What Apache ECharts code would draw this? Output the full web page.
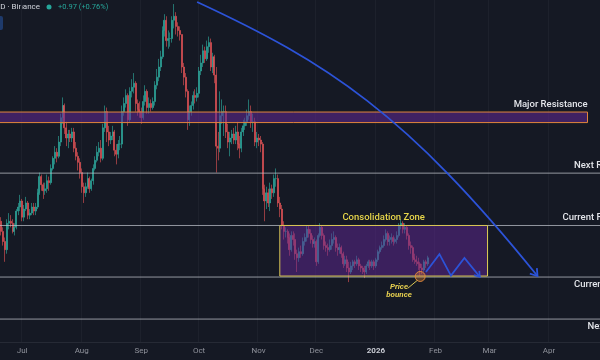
<!DOCTYPE html>
<html><head><meta charset="utf-8">
<script src="https://cdn.jsdelivr.net/npm/echarts@6/dist/echarts.min.js"></script>
<style>html,body{margin:0;padding:0;background:#151924;}#c{width:600px;height:360px;}</style>
</head><body><div id="c"></div>
<script>
// ---- data ----
const startDay = [2025, 5, 20];           // 2025-06-20, first category
const dayCount = 312;                      // categories through 2026-04-27
const monthLabels = ['2026','Feb','Mar','Apr','May','Jun','Jul','Aug','Sep','Oct','Nov','Dec'];
const firstOpen = 146;
const closes = [
 141,136,132,145,146,145,141,143,151,153,156,
 148,152,155,149,150,153,151,153,160,168,164,161,162,166,165,172,177,180,178,185,197,203,192,187,189,187,190,182,178,175,170,
 163,160,163,167,162,166,172,176,180,182,177,192,200,190,186,188,190,181,179,184,184,200,204,208,196,210,212,214,204,201,200,
 197,205,210,202,204,202,205,213,217,222,227,240,245,235,236,236,245,247,242,240,238,222,217,210,196,200,203,208,207,209,
 220,224,230,226,232,234,222,227,218,183,182,198,200,200,190,185,187,189,186,190,184,182,190,193,195,198,200,195,195,185,187,
 186,184,162,156,160,155,162,160,167,167,155,152,144,141,141,138,132,139,137,130,128,131,130,136,138,142,140,137,135,136,
 126,139,143,139,134,133,132,134,137,138,133,132,133,130,125,127,123,121,124,126,125,127,124,123,122,121,124,126,124,126,124,
 127,131,133,134,137,140,136,137,138,136,137,139,144,145,142,143,139,134,133,128,127,126,125,123,122,126,125,128];
const highs = [
 148,143,138,147,150,149,147,145,152,155,159,
 157,154,158,156,152,155,155,155,162,170,169,165,165,169,168,174,178,183,182,188,199,207,204,195,191,191,192,192,185,180,177,
 172,165,165,170,168,167,174,178,183,185,186,194,203,202,193,190,193,191,184,186,188,203,207,211,209,212,216,219,215,206,205,
 202,208,213,211,207,206,207,215,221,226,230,242,248,247,240,239,247,253,249,244,242,238,224,219,211,203,205,210,211,212,
 222,228,233,232,235,237,236,229,228,222,190,210,206,203,203,194,190,191,192,193,195,188,192,196,197,201,206,203,199,197,190,
 189,188,185,164,163,162,165,164,169,172,169,158,154,146,143,142,140,141,141,140,132,133,134,138,140,144,144,142,139,138,
 137,140,145,144,140,136,135,137,140,141,139,135,135,134,131,129,129,126,126,127,127,129,128,125,124,124,125,127,127,127,127,
 128,132,134,136,139,142,141,139,140,139,138,141,145,147,146,145,144,140,136,134,130,129,128,126,125,127,127,129];
const lows = [
 139,134,126,130,142,143,140,139,142,149,151,
 146,146,151,147,147,149,149,149,152,159,161,157,159,160,161,164,171,174,175,177,183,194,189,183,182,185,185,180,176,171,167,
 160,155,158,162,160,161,164,171,175,178,175,176,190,185,183,184,186,178,174,177,181,182,198,202,193,195,207,209,200,198,197,
 194,196,203,199,199,200,201,203,211,215,220,226,237,232,231,232,234,241,238,237,235,219,213,207,191,193,198,201,204,205,
 207,218,222,224,225,229,220,219,214,170,176,180,194,188,187,182,178,184,184,184,181,177,180,188,191,193,196,192,190,183,182,
 183,180,159,146,152,153,151,157,158,163,153,148,142,137,138,135,129,131,134,127,121,126,128,129,134,136,138,135,133,133,
 124,125,138,137,132,131,129,131,132,135,131,129,130,128,123,124,121,116,120,122,123,124,122,121,120,118,120,123,122,123,122,
 123,126,130,132,133,136,134,134,135,134,135,135,138,142,140,140,137,132,130,126,125,124,122,119,120,121,123,124];

const resistanceBand = [194.6, 199.8];
const resistanceBandEnd = '2026-04-21';
const nextResistance = 169.7;
const currentResistance = 143.9;
const currentSupport = 118.5;
const nextSupport = 97.8;
const zoneStart = '2025-11-12', zoneEnd = '2026-02-28', zoneTop = 143.9, zoneBottom = 119.0;
// projection curve: start, point at 1/3, point at 2/3, end (all on the curve)
const curvePoints = [['2025-09-30',254],['2025-11-30',223.5],['2026-01-24',182.9],['2026-03-26',119.0]];
const zigzagPoints = [['2026-01-27',121.0],['2026-02-03',129.8],['2026-02-09',119.2],['2026-02-16',127.9],['2026-02-24',118.6]];
const bouncePoint = ['2026-01-24',118.8];
const bounceText = ['2026-01-13',111.6];

// ---- build ----
const dates = [];
for (let i = 0; i < dayCount; i++) {
  const d = new Date(Date.UTC(startDay[0], startDay[1], startDay[2] + i));
  dates.push(d.toISOString().slice(0, 10));
}
const candles = closes.map((c, i) => [i === 0 ? firstOpen : closes[i - 1], c, lows[i], highs[i]]);
const isMonthStart = (idx, v) => (v || dates[idx]).slice(8) === '01';
const UP = '#2fb0a2', DOWN = '#ea5558';
const BLUE = '#2c53d8';

const chart = echarts.init(document.getElementById('c'));
chart.setOption({
  backgroundColor: '#151924',
  animation: false,
  grid: { left: 0, right: 0, top: 0, bottom: 18 },
  xAxis: {
    type: 'category', data: dates, boundaryGap: true,
    axisLine: { show: true, lineStyle: { color: '#262a35' } },
    axisTick: { show: false },
    axisLabel: {
      interval: (i, v) => isMonthStart(i, v), margin: 5, color: '#8f929b', fontSize: 8, fontFamily: 'Roboto',
      formatter: v => { const m = +v.slice(5, 7); return m === 1 ? '{y|2026}' : monthLabels[m - 1]; },
      rich: { y: { color: '#c9ccd4', fontSize: 8, fontWeight: 'bold', fontFamily: 'Roboto' } }
    },
    splitLine: { show: true, interval: (i, v) => isMonthStart(i, v), lineStyle: { color: '#1d212c', width: 1 } }
  },
  yAxis: { type: 'value', min: 86.5, max: 255, show: false },
  graphic: [
    { type: 'text', x: 40, y: 7, style: { text: 'SOLUSD · 1D · Binance', fill: '#d1d4dc', fontSize: 8, fontFamily: 'Roboto', align: 'right', verticalAlign: 'middle' } },
    { type: 'circle', shape: { cx: 49, cy: 7, r: 2.5 }, style: { fill: '#26a69a' } },
    { type: 'text', x: 58, y: 7, style: { text: '+0.97 (+0.76%)', fill: '#26a69a', fontSize: 7.5, fontFamily: 'Roboto', align: 'left', verticalAlign: 'middle' } },
    { type: 'rect', shape: { x: -2, y: 16, width: 5, height: 14, r: 2 }, style: { fill: '#1e3a6b' } }
  ],
  series: [
    {
      type: 'candlestick', data: candles, barWidth: 1.5, z: 2,
      itemStyle: { color: UP, color0: DOWN, borderColor: UP, borderColor0: DOWN, borderWidth: 0.6 }
    },
    {
      type: 'custom', data: [[0, 0]], z: 5, silent: true, clip: false,
      renderItem: (params, api) => {
        const cs = params.coordSys;
        const P = (d, v) => api.coord([dates.indexOf(d), v]);
        const Y = v => api.coord([0, v])[1];
        const L = cs.x, R = cs.x + cs.width;
        const els = [];
        const hline = v => ({ type: 'line', shape: { x1: L, y1: Y(v), x2: R, y2: Y(v) }, style: { stroke: 'rgba(190,193,202,0.75)', lineWidth: 1 } });
        // band
        const bEnd = P(resistanceBandEnd, 0)[0];
        els.push({ type: 'rect', shape: { x: L - 1, y: Y(resistanceBand[1]), width: bEnd - L + 1, height: Y(resistanceBand[0]) - Y(resistanceBand[1]) },
          style: { fill: 'rgba(98,40,150,0.55)', stroke: '#e0853c', lineWidth: 1 } });
        [nextResistance, currentResistance, currentSupport, nextSupport].forEach(v => els.push(hline(v)));
        // zone box
        const z1 = P(zoneStart, zoneTop), z2 = P(zoneEnd, zoneBottom);
        els.push({ type: 'rect', shape: { x: z1[0], y: z1[1], width: z2[0] - z1[0], height: z2[1] - z1[1] },
          style: { fill: 'rgba(98,40,150,0.5)', stroke: '#d8c653', lineWidth: 1 } });
        const head = (tip, from, len) => {
          const a = Math.atan2(tip[1] - from[1], tip[0] - from[0]), s = 0.6;
          return [[tip[0] - len * Math.cos(a - s), tip[1] - len * Math.sin(a - s)], tip, [tip[0] - len * Math.cos(a + s), tip[1] - len * Math.sin(a + s)]];
        };
        // projection curve: cubic through 4 on-curve points (t = 0, 1/3, 2/3, 1)
        const [p0, q1, q2, p3] = curvePoints.map(p => P(p[0], p[1]));
        const A = [0, 1].map(k => 27 * q1[k] - 8 * p0[k] - p3[k]);
        const B = [0, 1].map(k => 27 * q2[k] - p0[k] - 8 * p3[k]);
        const c1 = [0, 1].map(k => (2 * A[k] - B[k]) / 18);
        const c2 = [0, 1].map(k => (2 * B[k] - A[k]) / 18);
        els.push({ type: 'bezierCurve', shape: { x1: p0[0], y1: p0[1], cpx1: c1[0], cpy1: c1[1], cpx2: c2[0], cpy2: c2[1], x2: p3[0], y2: p3[1] },
          style: { stroke: BLUE, lineWidth: 1.8, fill: null } });
        els.push({ type: 'polyline', shape: { points: head(p3, c2, 8) }, style: { stroke: BLUE, lineWidth: 1.8, fill: null } });
        const zp = zigzagPoints.map(p => P(p[0], p[1]));
        els.push({ type: 'polyline', shape: { points: zp }, style: { stroke: BLUE, lineWidth: 1.7, fill: null } });
        els.push({ type: 'polyline', shape: { points: head(zp[zp.length - 1], zp[zp.length - 2], 6) }, style: { stroke: BLUE, lineWidth: 1.7, fill: null } });
        // bounce
        const bp = P(bouncePoint[0], bouncePoint[1]);
        els.push({ type: 'circle', shape: { cx: bp[0], cy: bp[1], r: 5 }, style: { fill: 'rgba(224,135,58,0.35)', stroke: '#e0873a', lineWidth: 1 } });
        const bt = P(bounceText[0], bounceText[1]);
        els.push({ type: 'line', shape: { x1: bt[0] + 9, y1: bt[1] - 3, x2: bp[0] - 3, y2: bp[1] + 4 }, style: { stroke: '#d8c653', lineWidth: 1 } });
        els.push({ type: 'text', style: { text: 'Price\nbounce', x: bt[0], y: bt[1], fill: '#e6cf4f', fontSize: 8, fontStyle: 'italic', fontWeight: 'bold', fontFamily: 'Roboto', lineHeight: 8, align: 'center', verticalAlign: 'middle' } });
        // texts
        const txt = (t, x, y, align, va, color) => ({ type: 'text', style: { text: t, x, y, fill: color || '#e3e5ea', fontSize: 9.5, fontWeight: 500, fontFamily: 'Roboto', align, verticalAlign: va } });
        els.push(txt('Major Resistance', bEnd, Y(resistanceBand[1]) - 2, 'right', 'bottom'));
        els.push(txt('Consolidation Zone', (z1[0] + z2[0]) / 2, z1[1] - 3, 'center', 'bottom', '#e6d54a'));
        els.push(txt('Next Resistance', P('2026-04-14', 0)[0], Y(nextResistance) - 3, 'left', 'bottom'));
        els.push(txt('Current Resistance', P('2026-04-08', 0)[0], Y(currentResistance) - 3, 'left', 'bottom'));
        els.push(txt('Current Support', P('2026-04-14', 0)[0], Y(currentSupport) + 3, 'left', 'top'));
        els.push(txt('Next Support', P('2026-04-21', 0)[0], Y(nextSupport) + 3, 'left', 'top'));
        return { type: 'group', children: els };
      }
    }
  ]
});
</script></body></html>
